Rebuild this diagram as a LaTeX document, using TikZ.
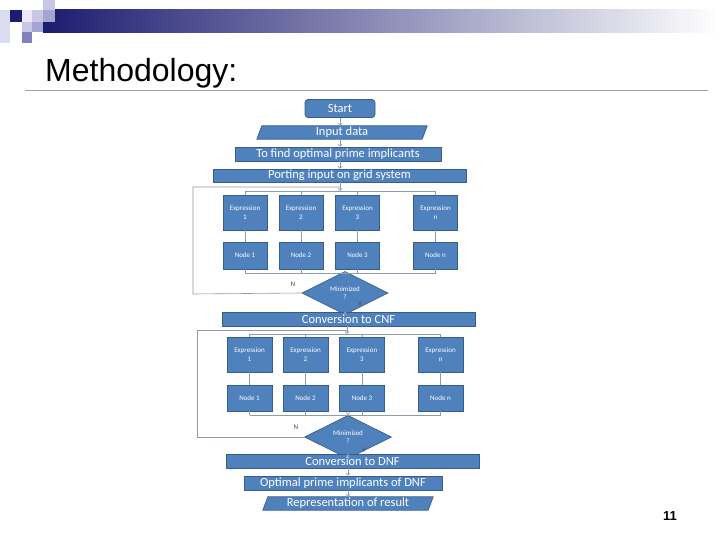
\documentclass[tikz,border=0pt]{standalone}
\usepackage{fontspec}
\setmainfont{Liberation Sans}
\newfontfamily\calibri{Carlito}
\usetikzlibrary{shapes.geometric,arrows.meta,backgrounds}
\definecolor{boxfill}{RGB}{79,129,189}
\definecolor{boxline}{RGB}{56,93,138}
\definecolor{conn}{RGB}{140,155,175}
\definecolor{navy}{RGB}{28,28,112}
\definecolor{lavA}{RGB}{220,220,240}
\definecolor{lavB}{RGB}{200,200,230}
\definecolor{lavC}{RGB}{165,165,210}
\definecolor{lavD}{RGB}{128,128,188}
\definecolor{rulegray}{RGB}{160,160,160}
\tikzset{
  box/.style={draw=boxline, fill=boxfill, line width=0.7pt, text=white, inner sep=0pt,
    font=\calibri\fontsize{12.5}{14}\selectfont},
  ptext/.style={inner sep=0pt, text=white, font=\calibri\fontsize{12.5}{14}\selectfont},
  pshape/.style={draw=boxline, fill=boxfill, line width=0.7pt},
  smallbox/.style={draw=boxline, fill=boxfill, line width=0.7pt, text=white, inner sep=0pt,
    minimum width=44pt, align=center, font=\calibri\fontsize{7}{8.5}\selectfont},
  decision/.style={diamond, draw=boxline, fill=boxfill, line width=0.7pt, text=white, inner sep=0pt,
    align=center, font=\calibri\fontsize{7}{8.5}\selectfont},
  conline/.style={draw=conn, line width=0.6pt},
  arr/.style={conline, -{Straight Barb[length=2.2pt,width=4pt]}},
  lbl/.style={text=black!70, font=\calibri\fontsize{7}{8}\selectfont, inner sep=0pt}
}
\begin{document}
\begin{tikzpicture}[x=1pt,y=-1pt]
\useasboundingbox (0,0) rectangle (720,540);
% header bar and squares
\shade[left color=navy, right color=white] (43,10) rectangle (720,33);
\fill[lavA] (0,10) rectangle (10,43);
\fill[navy] (10,10) rectangle (22,22);
\fill[lavA!60] (22,10) rectangle (32,22);
\fill[lavB] (32,10) rectangle (43,22);
\fill[lavB] (43,0) rectangle (55,10);
\fill[lavC] (43,10) rectangle (55,22);
\fill[lavB] (22,22) rectangle (32,32);
\fill[lavC] (32,22) rectangle (43,32);
\fill[lavD] (22,32) rectangle (32,43);
% title
\node[anchor=base west, inner sep=0pt, font=\fontsize{32}{36}\selectfont] (title) at (45,82) {Methodology:};
\draw[rulegray, line width=0.9pt] (25,90.5) -- (708,90.5);
\node[font=\bfseries\fontsize{13}{15}\selectfont, inner sep=0pt] (pagenum) at (670,516) {11};

% main chain top
\node[box, rounded corners=3pt, minimum width=70pt, minimum height=18pt] (start) at (340,108.5) {Start};
\node[ptext, minimum width=165pt, minimum height=13pt] (input) at (342,132.5) {Input data};
\node[box, minimum width=206pt, minimum height=14pt] (tofind) at (338,154) {To find optimal prime implicants};
\node[box, minimum width=253pt, minimum height=13pt] (porting) at (339.5,175.5) {Porting input on grid system};

% grid 1
\foreach \i/\x/\t in {1/245/1, 2/301/2, 3/357.5/3, 4/435.5/n}{
  \node[smallbox, minimum height=35pt] (ea\i) at (\x,212.5) {Expression\\\t};
  \node[smallbox, minimum height=27pt] (na\i) at (\x,255.5) {Node \t};
}
\node[decision, minimum width=86pt, minimum height=30pt] (dec1) at (345,293) {Minimized\\?};
\node[box, minimum width=253pt, minimum height=14pt] (cnf) at (348.5,319) {Conversion to CNF};

% grid 2
\foreach \i/\x/\t in {1/249.5/1, 2/305.5/2, 3/362/3, 4/440.5/n}{
  \node[smallbox, minimum width=45pt, minimum height=35pt] (eb\i) at (\x,354.5) {Expression\\\t};
  \node[smallbox, minimum width=45pt, minimum height=26pt] (nb\i) at (\x,398) {Node \t};
}
\node[decision, minimum width=87pt, minimum height=29pt] (dec2) at (348,437) {Minimized\\?};
\node[box, minimum width=253pt, minimum height=14pt] (dnf) at (352.5,461) {Conversion to DNF};
\node[box, minimum width=198pt, minimum height=14pt] (opt) at (343,483) {Optimal prime implicants of DNF};
\node[ptext, minimum width=165pt, minimum height=13pt] (rep) at (348,503.5) {Representation of result};

% parallelogram bodies
\begin{scope}[on background layer]
\fill[white] (0,0) rectangle (720,540);
\foreach \n in {input,rep}{
  \filldraw[pshape] ([xshift=-2.5pt]\n.south west) -- ([xshift=-2.5pt]\n.south east)
     -- ([xshift=2.5pt]\n.north east) -- ([xshift=2.5pt]\n.north west) -- cycle;
}
\end{scope}

% coordinates
\coordinate (b1t) at (340,191);
\coordinate (b1b) at (340,273);
\coordinate (l1b) at (193,294);
\coordinate (l1t) at (193,187);
\coordinate (l1e) at (340,187);
\coordinate (b2t) at (347,334);
\coordinate (b2b) at (347,415);
\coordinate (l2b) at (197,437);
\coordinate (l2t) at (197,330);
\coordinate (l2e) at (347,330);

% connectors top chain
\draw[arr] (start.south) -- (start.south |- input.north);
\draw[arr] (input.south -| start.south) -- (start.south |- tofind.north);
\draw[arr] (tofind.south -| start.south) -- (start.south |- porting.north);
\draw[arr] (porting.south -| b1t) -- (b1t);
\draw[conline] (dec1.west) -- (l1b) -- (l1t) -- (l1e);

% grid 1 lines
\draw[conline] (ea1.north |- b1t) -- (ea4.north |- b1t);
\draw[conline] (na1.south |- b1b) -- (na4.south |- b1b);
\foreach \i in {1,2,3,4}{
  \draw[conline] (ea\i.north |- b1t) -- (ea\i.north);
  \draw[conline] (ea\i.south) -- (na\i.north);
  \draw[conline] (na\i.south) -- (na\i.south |- b1b);
}
\draw[arr] (dec1.north |- b1b) -- (dec1.north);
\draw[arr] (dec1.south) -- (dec1.south |- cnf.north);
\node[lbl] (n1) at (293,284) {N};
\node[lbl] (y1) at (360,304) {Y};

% grid 2 lines
\draw[arr] (cnf.south -| b2t) -- (b2t);
\draw[conline] (dec2.west) -- (l2b) -- (l2t) -- (l2e);
\draw[conline] (eb1.north |- b2t) -- (eb4.north |- b2t);
\draw[conline] (nb1.south |- b2b) -- (nb4.south |- b2b);
\foreach \i in {1,2,3,4}{
  \draw[conline] (eb\i.north |- b2t) -- (eb\i.north);
  \draw[conline] (eb\i.south) -- (nb\i.north);
  \draw[conline] (nb\i.south) -- (nb\i.south |- b2b);
}
\draw[arr] (dec2.north |- b2b) -- (dec2.north);
\draw[arr] (dec2.south) -- (dec2.south |- dnf.north);
\node[lbl] (n2) at (296,427) {N};
\node[lbl] (y2) at (364,450) {Y};

% bottom chain
\draw[arr] (dnf.south -| dec2.south) -- (dec2.south |- opt.north);
\draw[arr] (opt.south -| dec2.south) -- (dec2.south |- rep.north);
\end{tikzpicture}
\end{document}
